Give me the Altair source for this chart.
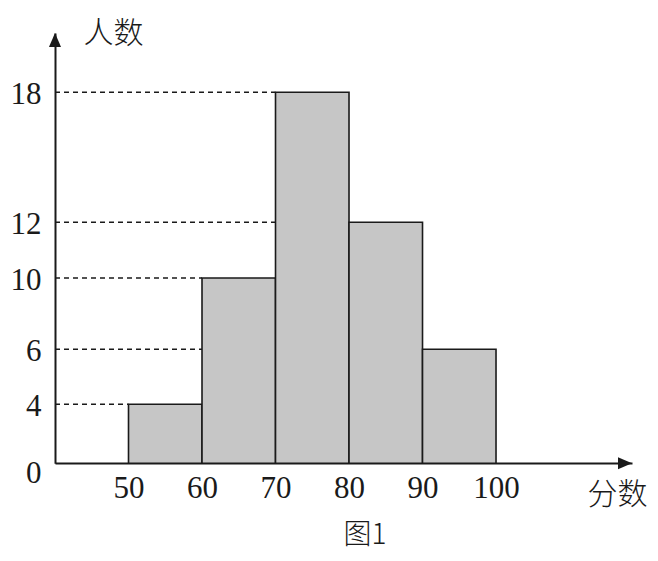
import altair as alt
import pandas as pd

# data
bin_start = [50, 60, 70, 80, 90]
bin_end = [60, 70, 80, 90, 100]
counts = [4, 10, 18, 12, 6]
y_ticks = [0, 4, 6, 10, 12, 18]
x_ticks = [50, 60, 70, 80, 90, 100]
ref_levels = [4, 6, 10, 12, 18]
ref_end = [50, 60, 60, 70, 70]

X_MIN, X_MAX = 40, 118.5
Y_TOP = 20.7

bars = pd.DataFrame({"start": bin_start, "end": bin_end, "count": counts})
refs = pd.DataFrame({"level": ref_levels, "x0": [X_MIN] * len(ref_levels), "x1": ref_end})

W, H = 577, 430
xscale = alt.Scale(domain=[X_MIN, X_MAX], nice=False, zero=False)
yscale = alt.Scale(
    domain=[0, 4, 6, 10, 12, 18, Y_TOP],
    range=[430.3, 371.3, 316.3, 245, 189.3, 59.3, 0],
    nice=False,
    zero=False,
)

serif = "Liberation Serif"
cjk = "Noto Sans CJK SC"

xaxis = alt.Axis(
    values=x_ticks,
    ticks=False,
    grid=False,
    domainColor="#1a1a1a",
    domainWidth=2,
    labelFont=serif,
    labelFontSize=31,
    labelColor="#1a1a1a",
    labelPadding=10,
    labelBaseline="top",
    labelFlush=False,
    labelOverlap=False,
    title="分数",
    titleFont=cjk,
    titleFontSize=30,
    titleFontWeight=300,
    titleColor="#1a1a1a",
    titleAngle=0,
    titleAlign="center",
    titleBaseline="middle",
    titleX=562,
    titleY=31,
)
yaxis = alt.Axis(
    values=y_ticks,
    ticks=False,
    grid=False,
    domainColor="#1a1a1a",
    domainWidth=2,
    labelFont=serif,
    labelFontSize=31,
    labelColor="#1a1a1a",
    labelPadding=14,
    labelBaseline="middle",
    labelOffset={"condition": {"test": "datum.value === 0", "value": 10}, "value": 2},
    labelFlush=False,
    labelOverlap=False,
    title="人数",
    titleFont=cjk,
    titleFontSize=30,
    titleFontWeight=300,
    titleColor="#1a1a1a",
    titleAngle=0,
    titleAlign="center",
    titleBaseline="middle",
    titleX=58,
    titleY=0,
)

ref_layer = alt.Chart(refs).mark_rule(color="#1a1a1a", strokeWidth=1.6, strokeDash=[5, 4]).encode(
    x=alt.X("x0:Q", scale=xscale, axis=xaxis),
    x2="x1:Q",
    y=alt.Y("level:Q", scale=yscale, axis=yaxis),
)

bar_layer = alt.Chart(bars).mark_rect(fill="#c6c6c6", stroke="#1a1a1a", strokeWidth=1.6).encode(
    x=alt.X("start:Q", scale=xscale),
    x2="end:Q",
    y=alt.Y("count:Q", scale=yscale),
    y2=alt.datum(0),
)

arrows = pd.DataFrame({"x": [X_MIN, X_MAX], "y": [Y_TOP, 0], "dir": ["up", "right"]})
up_arrow = alt.Chart(arrows[arrows.dir == "up"]).mark_point(
    shape="M0,0 L-0.86,2 L0.86,2 Z", size=196, filled=True, color="#1a1a1a", opacity=1
).encode(x=alt.X("x:Q", scale=xscale), y=alt.Y("y:Q", scale=yscale))
right_arrow = alt.Chart(arrows[arrows.dir == "right"]).mark_point(
    shape="M0,0 L-2,-0.86 L-2,0.86 Z", size=196, filled=True, color="#1a1a1a", opacity=1
).encode(x=alt.X("x:Q", scale=xscale), y=alt.Y("y:Q", scale=yscale))

caption = alt.Chart(pd.DataFrame({"t": ["图1"]})).mark_text(
    font=cjk, fontSize=28, fontWeight=300, color="#1a1a1a", align="center", baseline="middle"
).encode(text="t:N", x=alt.value(310), y=alt.value(503))

chart = (
    alt.layer(ref_layer, bar_layer, up_arrow, right_arrow, caption)
    .properties(
        width=W,
        height=H,
        autosize=alt.AutoSizeParams(type="none"),
        padding={"left": 47, "top": 25, "right": 18, "bottom": 90},
        view=alt.ViewBackground(stroke="transparent", strokeWidth=0),
    )
    .configure(background="white", style={"cell": {"stroke": "transparent", "strokeWidth": 0}})
    .configure_view(stroke="transparent", strokeWidth=0)
)

chart.save("out.html", embed_options={"renderer": "svg", "actions": False})
